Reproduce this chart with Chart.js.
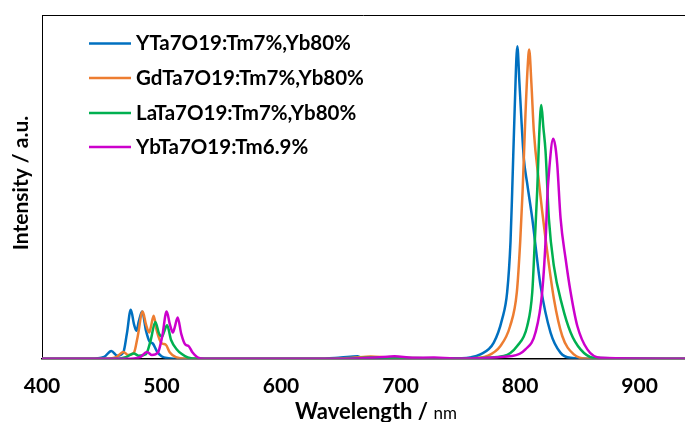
<!DOCTYPE html>
<html>
<head>
<meta charset="utf-8">
<script src="https://cdn.jsdelivr.net/npm/chart.js@4"></script>
<style>
  html, body { margin: 0; padding: 0; background: #fff; }
</style>
</head>
<body>
<canvas id="grafico" width="685" height="422"></canvas>
<script>
// Series names and colours
const seriesNames = ["YTa7O19:Tm7%,Yb80%", "GdTa7O19:Tm7%,Yb80%", "LaTa7O19:Tm7%,Yb80%", "YbTa7O19:Tm6.9%"];
const seriesColors = ["#0070C0", "#ED7D31", "#00B050", "#CC00CC"];
const xTicks = [400, 500, 600, 700, 800, 900];

// YTa7O19:Tm7%,Yb80%
const yTaWl = [400, 440, 452, 458, 463, 468, 471, 474.3, 477, 479, 481, 483.8, 487, 490, 492.7, 496, 500, 506, 515,
  630, 650, 664, 667, 690, 720, 750, 758, 766.8, 778, 785, 789.2, 792, 793.4, 795.5, 797.7, 799.5, 803.1, 806, 810.2, 817.1, 825.5, 833.9, 842.3, 860, 938];
const yTaInt = [0, 0, 0.006, 0.025, 0.01, 0.02, 0.08, 0.157, 0.11, 0.09, 0.12, 0.151, 0.09, 0.055, 0.049, 0.025, 0.008, 0.002, 0,
  0, 0.004, 0.008, 0.004, 0.003, 0.001, 0.002, 0.004, 0.014, 0.052, 0.127, 0.213, 0.374, 0.535, 0.8, 1.0, 0.88, 0.643, 0.56, 0.449, 0.235, 0.084, 0.019, 0.003, 0, 0];

// GdTa7O19:Tm7%,Yb80%
const gdTaWl = [400, 450, 462, 468.1, 472, 477, 480, 484.2, 487, 489.7, 491, 493.4, 496, 500, 503.6, 507, 512, 520,
  640, 660, 675, 690, 720, 760, 772.5, 783.6, 791.7, 797.3, 800.1, 802.1, 804.5, 806.3, 807.6, 809.5, 811.5, 815.7, 821.3, 828.3, 835.3, 845, 856.2, 938];
const gdTaInt = [0, 0, 0.005, 0.022, 0.012, 0.02, 0.07, 0.151, 0.11, 0.084, 0.10, 0.138, 0.09, 0.05, 0.045, 0.02, 0.005, 0,
  0, 0.003, 0.007, 0.004, 0.002, 0.002, 0.009, 0.041, 0.105, 0.213, 0.374, 0.535, 0.78, 0.93, 0.99, 0.88, 0.729, 0.568, 0.385, 0.192, 0.073, 0.014, 0, 0];

// LaTa7O19:Tm7%,Yb80%
const laTaWl = [400, 460, 470, 476.8, 481, 487, 491, 494.8, 498, 500.5, 502, 504.7, 508, 512.8, 517, 522, 530,
  650, 675, 700, 730, 760, 786.3, 797.6, 806, 810.2, 812.3, 814.3, 816.3, 817.8, 819.5, 821.3, 824.1, 828.2, 835.3, 842.3, 850.6, 861.8, 938];
const laTaInt = [0, 0, 0.005, 0.017, 0.01, 0.015, 0.06, 0.118, 0.08, 0.071, 0.085, 0.107, 0.06, 0.030, 0.015, 0.004, 0,
  0, 0.004, 0.003, 0.002, 0.002, 0.009, 0.041, 0.105, 0.213, 0.374, 0.535, 0.74, 0.812, 0.74, 0.665, 0.449, 0.299, 0.170, 0.084, 0.030, 0.003, 0];

// YbTa7O19:Tm6.9%
const ybTaWl = [400, 470, 482, 487.8, 492, 497, 500.5, 504.3, 507, 509.5, 511, 513.5, 516.5, 520, 522.6, 526, 530, 536,
  650, 680, 695, 710, 728, 745, 793.4, 804.5, 812.9, 818.5, 821.7, 822.6, 824.5, 827.7, 829.5, 831.1, 833.9, 838.1, 842.3, 847.9, 856.3, 867.4, 938];
const ybTaInt = [0, 0, 0.005, 0.022, 0.012, 0.02, 0.07, 0.151, 0.11, 0.084, 0.10, 0.132, 0.08, 0.045, 0.041, 0.02, 0.005, 0,
  0, 0.004, 0.008, 0.003, 0.004, 0.001, 0.009, 0.030, 0.084, 0.213, 0.406, 0.503, 0.611, 0.704, 0.68, 0.622, 0.449, 0.320, 0.213, 0.105, 0.030, 0.003, 0];

const allWl = [yTaWl, gdTaWl, laTaWl, ybTaWl];
const allInt = [yTaInt, gdTaInt, laTaInt, ybTaInt];

document.addEventListener("DOMContentLoaded", () => {
  const datasets = seriesNames.map((nome, i) => ({
    label: nome,
    data: allWl[i].map((x, k) => ({ x: x, y: allInt[i][k] })),
    borderColor: seriesColors[i],
    backgroundColor: seriesColors[i],
    borderWidth: 2.5,
    pointRadius: 0,
    fill: false,
    cubicInterpolationMode: "monotone",
    order: seriesNames.length - 1 - i
  }));

  // Legend, frame top and axis titles drawn by hand
  const extras = {
    id: "extras",
    afterDraw: (chart) => {
      const c = chart.ctx;
      const area = chart.chartArea;
      c.save();
      c.strokeStyle = "#000";
      c.lineWidth = 1;
      c.beginPath();
      c.moveTo(area.left, area.top + 0.5);
      c.lineTo(area.right, area.top + 0.5);
      c.stroke();

      // Legend
      const rows = [43.5, 78, 113, 147];
      c.font = "bold 20.5px Lato";
      c.textBaseline = "middle";
      c.textAlign = "left";
      chart.data.datasets.forEach((ds, i) => {
        c.strokeStyle = ds.borderColor;
        c.lineWidth = 2.5;
        c.beginPath();
        c.moveTo(89, rows[i]);
        c.lineTo(131, rows[i]);
        c.stroke();
        c.fillStyle = "#000";
        c.fillText(ds.label, 136, rows[i]);
      });

      // Y title
      c.save();
      c.translate(21, 183);
      c.rotate(-Math.PI / 2);
      c.textAlign = "center";
      c.font = "bold 21px Lato";
      c.fillText("Intensity / a.u.", 0, 0);
      c.restore();

      // X title
      c.textBaseline = "alphabetic";
      let x = 295;
      c.font = "bold 22px Lato";
      c.fillText("Wavelength /", x, 419);
      x += c.measureText("Wavelength / ").width;
      c.font = "17px Lato";
      c.fillText("nm", x, 419);
      c.restore();
    }
  };

  const config = {
    type: "line",
    data: { datasets: datasets },
    options: {
      responsive: false,
      animation: false,
      layout: { padding: { left: 42, top: 15, right: 0, bottom: 8 } },
      plugins: {
        legend: { display: false },
        tooltip: { enabled: false }
      },
      scales: {
        x: {
          type: "linear",
          min: 400,
          max: 938,
          afterBuildTicks: (axis) => {
            axis.ticks = xTicks.map(v => ({ value: v }));
          },
          ticks: {
            color: "#000",
            padding: 15,
            maxRotation: 0,
            font: { family: "Lato", size: 21, weight: "bold" }
          },
          grid: { display: false, drawTicks: false },
          border: { display: true, color: "#000", width: 1.5 }
        },
        y: {
          min: 0,
          max: 1.1,
          ticks: { display: false },
          grid: { display: false, drawTicks: false },
          border: { display: true, color: "#000", width: 1 }
        }
      }
    },
    plugins: [extras]
  };

  const ctx = document.getElementById("grafico").getContext("2d");
  new Chart(ctx, config);
});
</script>
</body>
</html>
